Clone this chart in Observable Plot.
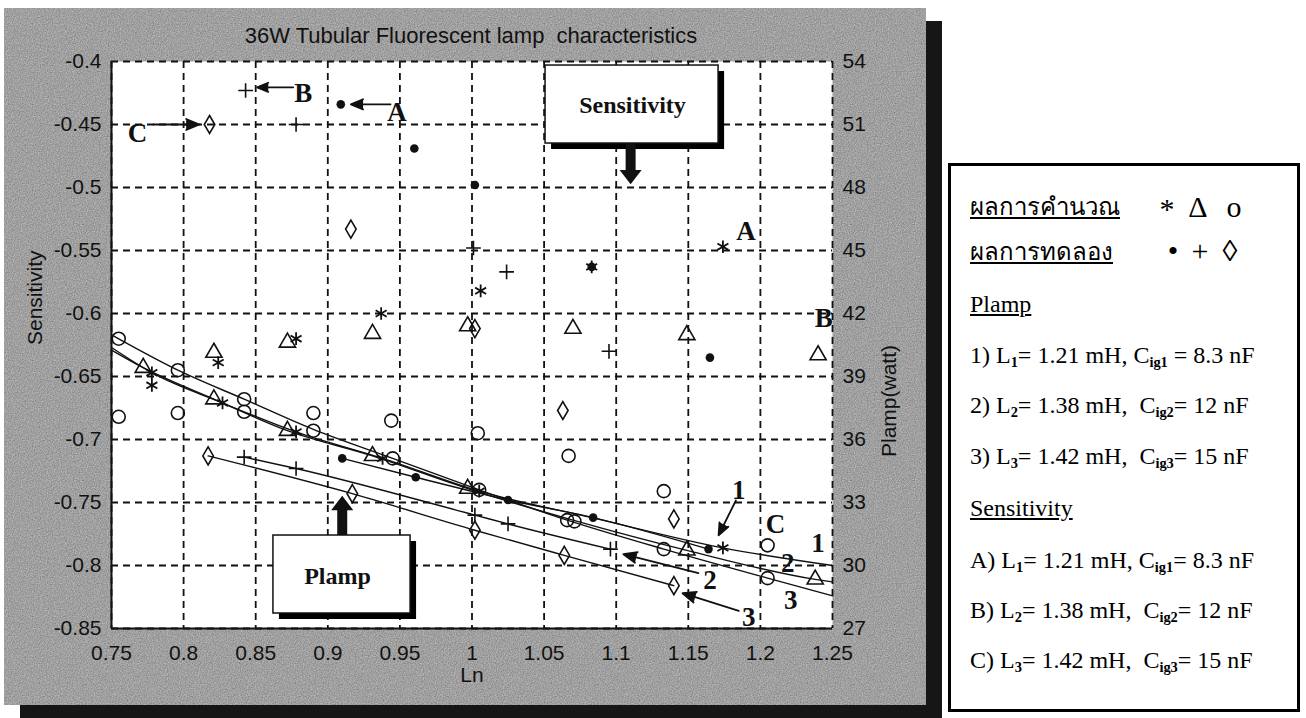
<!DOCTYPE html>
<html><head><meta charset="utf-8">
<script src="https://cdn.jsdelivr.net/npm/d3@7"></script>
<script src="https://cdn.jsdelivr.net/npm/@observablehq/plot@0.6"></script>
<style>
body{margin:0;background:#fff;width:1306px;height:718px;overflow:hidden;position:relative;font-family:"Liberation Sans",Arial,sans-serif}
#panel{position:absolute;left:4px;top:8px;width:922px;height:697px;background-color:#cacaca;
background-image:url("data:image/svg+xml;utf8,<svg xmlns='http://www.w3.org/2000/svg' width='256' height='256'><filter id='n'><feTurbulence type='fractalNoise' baseFrequency='0.85' numOctaves='2' stitchTiles='stitch'/><feColorMatrix values='0 0 0 0 0  0 0 0 0 0  0 0 0 0 0  0 0 0 0.42 0'/></filter><rect width='100%' height='100%' filter='url(%23n)'/></svg>");
box-shadow:16px 13px 0 #161616}
#title{position:absolute;left:0;top:17px;width:934px;text-align:center;font-size:22px;line-height:22px;color:#111;white-space:pre}
#chart{position:absolute;left:0;top:0}
#legend{position:absolute;left:948px;top:163px;width:346px;height:543px;border:3px solid #000;background:#fff;font-family:"Liberation Serif","Times New Roman",serif;font-size:24px;color:#000}
.row{position:absolute;left:19px;white-space:pre;line-height:24px}
.u{text-decoration:underline}
.sym{position:absolute;font-size:30px;line-height:28px;transform:translateX(-50%)}
sub{font-size:0.6em;vertical-align:-0.3em;line-height:0;font-weight:bold}
</style></head>
<body>
<div id="panel"><div id="chart"></div><div id="title">36W Tubular Fluorescent lamp  characteristics</div></div>
<div id="legend">
  <div class="row u" style="top:29px">ผลการคำนวณ</div>
  <div class="sym" style="left:216px;top:29px">*</div>
  <div class="sym" style="left:247px;top:27px">Δ</div>
  <div class="sym" style="left:283px;top:27px">o</div>
  <div class="row u" style="top:74px">ผลการทดลอง</div>
  <div class="sym" style="left:222px;top:71px">•</div>
  <div class="sym" style="left:249px;top:71px">+</div>
  <div class="sym" style="left:279px;top:71px">◊</div>
  <div class="row u" style="top:126px">Plamp</div>
  <div class="row" style="top:177px">1) L<sub>1</sub>= 1.21 mH, C<sub>ig1</sub> = 8.3 nF</div>
  <div class="row" style="top:227px">2) L<sub>2</sub>= 1.38 mH,  C<sub>ig2</sub>= 12 nF</div>
  <div class="row" style="top:278px">3) L<sub>3</sub>= 1.42 mH,  C<sub>ig3</sub>= 15 nF</div>
  <div class="row u" style="top:330px">Sensitivity</div>
  <div class="row" style="top:382px">A) L<sub>1</sub>= 1.21 mH, C<sub>ig1</sub>= 8.3 nF</div>
  <div class="row" style="top:432px">B) L<sub>2</sub>= 1.38 mH,  C<sub>ig2</sub>= 12 nF</div>
  <div class="row" style="top:482px">C) L<sub>3</sub>= 1.42 mH,  C<sub>ig3</sub>= 15 nF</div>
</div>
<script>
// ---- axes ----
const lnTicks = [0.75, 0.8, 0.85, 0.9, 0.95, 1, 1.05, 1.1, 1.15, 1.2, 1.25];
const sensTicks = [-0.85, -0.8, -0.75, -0.7, -0.65, -0.6, -0.55, -0.5, -0.45, -0.4];
const plampTicks = [27, 30, 33, 36, 39, 42, 45, 48, 51, 54];

// ---- Plamp (watt) vs Ln : calculated curves 1,2,3 ----
const plampCurve1 = [[0.75,40.38],[0.778,39.18],[0.827,37.74],[0.878,36.36],[0.938,35.10],[1.005,33.54],[1.083,32.28],[1.174,30.84],[1.25,30.00]];
const plampCurve2 = [[0.75,40.26],[0.772,39.42],[0.821,37.92],[0.872,36.42],[0.931,35.22],[0.997,33.66],[1.07,32.16],[1.149,30.72],[1.238,29.34],[1.25,29.22]];
const plampCurve3 = [[0.75,40.98],[0.796,39.30],[0.842,37.92],[0.890,36.48],[0.945,35.10],[1.005,33.60],[1.066,32.16],[1.133,30.78],[1.205,29.40],[1.25,28.56]];
// calculated markers
const plampCalcStar = [[0.778,39.18],[0.827,37.74],[0.878,36.36],[0.938,35.10],[1.005,33.54],[1.174,30.84]];
const plampCalcTri = [[0.772,39.42],[0.821,37.92],[0.872,36.42],[0.931,35.22],[0.997,33.66],[1.149,30.72],[1.238,29.34]];
const plampCalcCirc = [[0.755,40.80],[0.796,39.30],[0.842,37.92],[0.890,36.42],[0.945,35.10],[1.005,33.60],[1.066,32.16],[1.071,32.10],[1.133,30.78],[1.205,29.40]];
// experimental Plamp
const plampExpDot = [[0.910,35.10],[0.961,34.20],[1.025,33.12],[1.084,32.28],[1.164,30.78]];
const plampExpPlus = [[0.842,35.16],[0.878,34.62],[1.002,32.40],[1.025,31.98],[1.096,30.78]];
const plampExpDiam = [[0.817,35.22],[0.917,33.42],[1.002,31.68],[1.064,30.48],[1.140,29.04]];

// ---- Sensitivity vs Ln ----
const sensCalcA = [[0.778,-0.657],[0.824,-0.639],[0.878,-0.620],[0.937,-0.600],[1.006,-0.582],[1.083,-0.563],[1.174,-0.547]];
const sensExpA = [[0.909,-0.434],[0.960,-0.469],[1.002,-0.498],[1.083,-0.563],[1.165,-0.635]];
const sensCalcB = [[0.821,-0.631],[0.872,-0.623],[0.931,-0.616],[0.997,-0.610],[1.070,-0.612],[1.149,-0.617],[1.240,-0.633]];
const sensExpB = [[0.843,-0.423],[0.878,-0.450],[1.001,-0.548],[1.024,-0.567],[1.095,-0.630]];
const sensCalcC = [[0.755,-0.682],[0.796,-0.679],[0.842,-0.678],[0.890,-0.679],[0.944,-0.685],[1.004,-0.695],[1.067,-0.713],[1.133,-0.741],[1.205,-0.784]];
const sensExpC = [[0.818,-0.450],[0.916,-0.533],[1.002,-0.612],[1.063,-0.677],[1.140,-0.763]];

// ---- annotations (data units: Ln, Sensitivity) ----
const noteText = ["A","B","C","A","B","C","1","2","3","1","2","3"];
const noteLn   = [0.948,0.883,0.768,1.190,1.244,1.2105,1.240,1.219,1.221,1.185,1.165,1.192];
const noteSens = [-0.4405,-0.425,-0.457,-0.535,-0.604,-0.767,-0.7825,-0.798,-0.828,-0.7405,-0.812,-0.841];
const arrowLn1 = [0.9435,0.876,0.779,1.183,1.157,1.185];
const arrowS1  = [-0.434,-0.4205,-0.450,-0.7484,-0.806,-0.836];
const arrowLn2 = [0.916,0.851,0.811,1.171,1.105,1.146];
const arrowS2  = [-0.434,-0.4205,-0.450,-0.776,-0.791,-0.822];
const boxName = ["Sensitivity","Plamp"];
const boxLn = [[1.051,1.171],[0.8623,0.9574]];
const boxSens = [[-0.4032,-0.4651],[-0.7762,-0.8381]];
const boxTextAt = [[1.1113,-0.4349],[0.9067,-0.8087]];
const bigArrowLn = [1.110, 0.910];
const bigArrowShaft = [[-0.4651,-0.4875],[-0.7762,-0.7556]];
const bigArrowHead = [-0.4917, -0.7504];
const bigArrowRot = [180, 0];

const toS = d3.scaleLinear().domain([27, 54]).range([-0.85, -0.4]);
const fmt = d => String(+(+d).toFixed(2));
const PX = {x: d => d[0], y: d => toS(d[1])};
const SX = {x: d => d[0], y: d => d[1]};

const lozenge = {draw(ctx, size) {const r = Math.sqrt(size / Math.PI); const h = r * 1.45, w = r * 0.85; ctx.moveTo(0, -h); ctx.lineTo(w, 0); ctx.lineTo(0, h); ctx.lineTo(-w, 0); ctx.closePath();}};
const headSym = {draw(ctx, size) {const r = Math.sqrt(size / Math.PI); ctx.moveTo(0, -0.65 * r); ctx.lineTo(r, 0.65 * r); ctx.lineTo(-r, 0.65 * r); ctx.closePath();}};

const ink = "#111";
const star = (data, acc) => Plot.dot(data, {...acc, symbol: "asterisk", r: 6, stroke: ink, strokeWidth: 1.8});
const tri = (data, acc) => Plot.dot(data, {...acc, symbol: "triangle", r: 6, stroke: ink, strokeWidth: 1.6, fill: "none"});
const circ = (data, acc) => Plot.dot(data, {...acc, symbol: "circle", r: 6.5, stroke: ink, strokeWidth: 1.6, fill: "none"});
const dotF = (data, acc) => Plot.dot(data, {...acc, r: 4.3, fill: ink, stroke: null});
const plus = (data, acc) => Plot.dot(data, {...acc, symbol: "plus", r: 4.8, stroke: ink, strokeWidth: 1.6});
const diam = (data, acc) => Plot.dot(data, {...acc, symbol: lozenge, r: 6.2, stroke: ink, strokeWidth: 1.6, fill: "none"});
const curve = (data) => Plot.line(data, {...PX, curve: "monotone-x", stroke: ink, strokeWidth: 1.4});

const idx = a => a.map((_, i) => i);
const boxes = idx(boxName);
const notes = idx(noteText);
const arrows = idx(arrowLn1);

const chart = Plot.plot({
  width: 922, height: 697,
  marginLeft: 107, marginRight: 94, marginTop: 53, marginBottom: 77,
  x: {domain: [0.75, 1.25]},
  y: {domain: [-0.85, -0.4]},
  style: {background: "transparent", fontFamily: "'Liberation Sans', Arial, sans-serif", fontSize: "21px", color: "#111"},
  marks: [
    Plot.frame({fill: "white", stroke: null}),
    Plot.gridX({ticks: lnTicks, stroke: ink, strokeOpacity: 1, strokeWidth: 1.8, strokeDasharray: "7,5"}),
    Plot.gridY({ticks: sensTicks, stroke: ink, strokeOpacity: 1, strokeWidth: 1.8, strokeDasharray: "7,5"}),
    Plot.ruleX([0.75], {stroke: ink, strokeWidth: 2}),
    Plot.ruleY([-0.85], {stroke: ink, strokeWidth: 2}),
    // Plamp curves
    curve(plampCurve1), curve(plampCurve2), curve(plampCurve3),
    curve(plampExpDot), curve(plampExpPlus), curve(plampExpDiam),
    star(plampCalcStar, PX), tri(plampCalcTri, PX), circ(plampCalcCirc, PX),
    dotF(plampExpDot, PX), plus(plampExpPlus, PX), diam(plampExpDiam, PX),
    // Sensitivity points
    star(sensCalcA, SX), dotF(sensExpA, SX),
    tri(sensCalcB, SX), plus(sensExpB, SX),
    circ(sensCalcC, SX), diam(sensExpC, SX),
    // callout boxes
    Plot.rect(boxes, {x1: i => boxLn[i][0], x2: i => boxLn[i][1], y1: i => boxSens[i][0], y2: i => boxSens[i][1], fill: "#000", dx: 6, dy: 6}),
    Plot.rect(boxes, {x1: i => boxLn[i][0], x2: i => boxLn[i][1], y1: i => boxSens[i][0], y2: i => boxSens[i][1], fill: "white", stroke: ink, strokeWidth: 1.5}),
    Plot.text(boxes, {x: i => boxTextAt[i][0], y: i => boxTextAt[i][1], text: i => boxName[i], fontFamily: "'Liberation Serif', 'Times New Roman', serif", fontWeight: "bold", fontSize: 24, fill: ink}),
    Plot.ruleX(boxes, {x: i => bigArrowLn[i], y1: i => bigArrowShaft[i][0], y2: i => bigArrowShaft[i][1], stroke: ink, strokeWidth: 10}),
    Plot.dot(boxes, {x: i => bigArrowLn[i], y: i => bigArrowHead[i], rotate: i => bigArrowRot[i], symbol: headSym, r: 11, fill: ink, stroke: null}),
    // thin arrows & labels
    Plot.arrow(arrows, {x1: i => arrowLn1[i], y1: i => arrowS1[i], x2: i => arrowLn2[i], y2: i => arrowS2[i], stroke: ink, fill: ink, strokeWidth: 1.8, headLength: 12, headAngle: 45}),
    Plot.text(notes, {x: i => noteLn[i], y: i => noteSens[i], text: i => noteText[i], fontFamily: "'Liberation Serif', 'Times New Roman', serif", fontWeight: "bold", fontSize: 27, fill: ink}),
    // axes
    Plot.axisX({ticks: lnTicks, tickSize: 0, tickPadding: 17, tickFormat: fmt, label: null}),
    Plot.axisY({anchor: "left", ticks: sensTicks, tickSize: 0, tickPadding: 10, tickFormat: fmt, label: null}),
    Plot.axisY({anchor: "right", ticks: plampTicks.map(toS), tickSize: 0, tickPadding: 10, tickFormat: d => String(Math.round(toS.invert(d))), label: null}),
    Plot.text(["Ln"], {frameAnchor: "bottom", dy: 53, text: d => d, fill: ink}),
    Plot.text(["Sensitivity"], {frameAnchor: "left", dx: -76, rotate: -90, text: d => d, fill: ink}),
    Plot.text(["Plamp(watt)"], {frameAnchor: "right", dx: 57, rotate: -90, text: d => d, fill: ink})
  ]
});
document.getElementById("chart").appendChild(chart);
</script>
</body></html>
